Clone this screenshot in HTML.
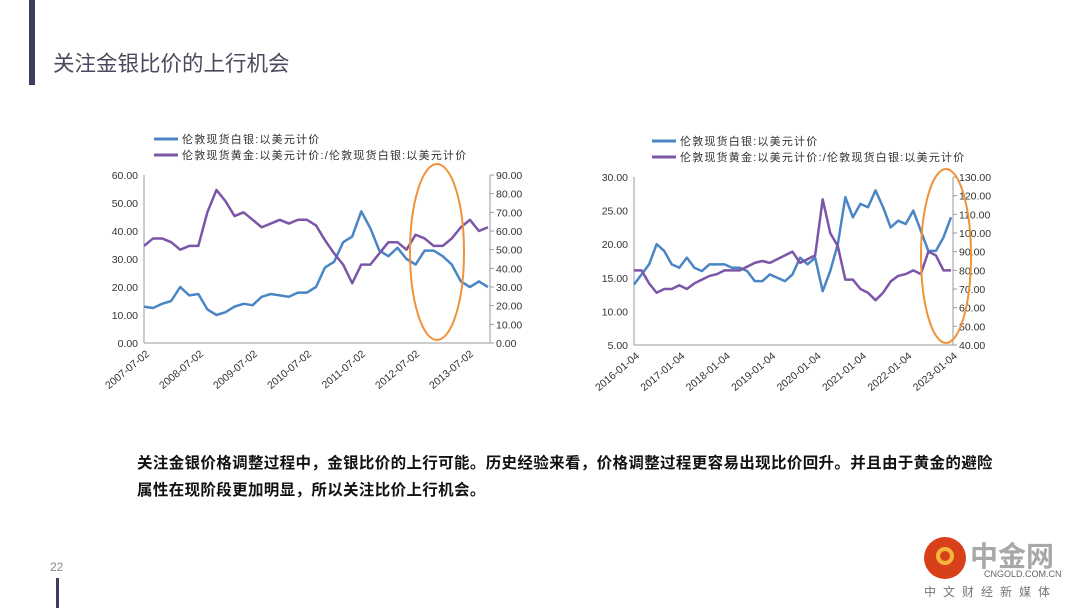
<!DOCTYPE html>
<html><head><meta charset="utf-8">
<style>
html,body{margin:0;padding:0;background:#fff;}
body{width:1080px;height:608px;position:relative;overflow:hidden;font-family:"Liberation Sans","Noto Sans CJK SC",sans-serif;}
.abs{position:absolute;}
svg text{font-family:"Liberation Sans","Noto Sans CJK SC",sans-serif;}
</style></head>
<body>
<div class="abs" style="left:29px;top:0;width:6px;height:85px;background:#3c4060;"></div>
<div class="abs" style="left:53px;top:47px;font-size:21.5px;color:#4a4a5e;">关注金银比价的上行机会</div>
<div class="abs" style="left:137px;top:450px;width:900px;font-size:15.5px;letter-spacing:0.35px;line-height:27px;font-weight:bold;color:#111;">关注金银价格调整过程中，金银比价的上行可能。历史经验来看，价格调整过程更容易出现比价回升。并且由于黄金的避险<br>属性在现阶段更加明显，所以关注比价上行机会。</div>
<div class="abs" style="left:50px;top:560px;font-size:12px;color:#888;">22</div>
<div class="abs" style="left:56px;top:578px;width:3px;height:30px;background:#3c4060;"></div>
<div class="abs" style="left:920px;top:535px;width:160px;height:73px;">
  <div style="position:absolute;left:4px;top:2px;width:42px;height:42px;border-radius:50%;background:#d8401a;"></div>
  <div style="position:absolute;left:16px;top:12px;width:18px;height:18px;border-radius:50%;border:4px solid #f5b53a;box-sizing:border-box;"></div>
  <div style="position:absolute;left:50px;top:0px;font-size:28px;font-weight:bold;color:#a8a8a8;">中金网</div>
  <div style="position:absolute;left:64px;top:34px;font-size:9px;color:#666;">CNGOLD.COM.CN</div>
  <div style="position:absolute;left:4px;top:48px;font-size:12px;letter-spacing:7px;color:#777;">中文财经新媒体</div>
</div>
<svg class="abs" style="left:0;top:0" width="1080" height="608" id="charts"></svg>
<script>
const leftXLabels=["2007-07-02","2008-07-02","2009-07-02","2010-07-02","2011-07-02","2012-07-02","2013-07-02"];
const leftYTicks=["0.00","10.00","20.00","30.00","40.00","50.00","60.00"];
const leftY2Ticks=["0.00","10.00","20.00","30.00","40.00","50.00","60.00","70.00","80.00","90.00"];
const leftSilver=[13,12.5,14,15,20,17,17.5,12,10,11,13,14,13.5,16.5,17.5,17,16.5,18,18,20,27,29,36,38,47,41,33,31,34,30,28,33,33,31,28,22,20,22,20];
const leftRatio=[52,56,56,54,50,52,52,70,82,76,68,70,66,62,64,66,64,66,66,63,55,48,42,32,42,42,48,54,54,50,58,56,52,52,56,62,66,60,62];
const rightXLabels=["2016-01-04","2017-01-04","2018-01-04","2019-01-04","2020-01-04","2021-01-04","2022-01-04","2023-01-04"];
const rightYTicks=["5.00","10.00","15.00","20.00","25.00","30.00"];
const rightY2Ticks=["40.00","50.00","60.00","70.00","80.00","90.00","100.00","110.00","120.00","130.00"];
const rightSilver=[14,15.5,17,20,19,17,16.5,18,16.5,16,17,17,17,16.5,16.5,16,14.5,14.5,15.5,15,14.5,15.5,18,17,18,13,16,20,27,24,26,25.5,28,25.5,22.5,23.5,23,25,22,19,19,21,24];
const rightRatio=[80,80,73,68,70,70,72,70,73,75,77,78,80,80,80,82,84,85,84,86,88,90,84,86,88,118,100,93,75,75,70,68,64,68,74,77,78,80,78,90,88,80,80];

const svg=document.getElementById('charts');
const NS='http://www.w3.org/2000/svg';
function mk(tag,attrs,parent){const e=document.createElementNS(NS,tag);for(const k in attrs)e.setAttribute(k,attrs[k]);(parent||svg).appendChild(e);return e;}

function drawChart(cfg){
  const g=mk('g',{});
  
  
  const {x0,x1,y0,y1}=cfg;
  const ys=v=>y0-(v-cfg.ymin)/(cfg.ymax-cfg.ymin)*(y0-y1);
  const ys2=v=>y0-(v-cfg.y2min)/(cfg.y2max-cfg.y2min)*(y0-y1);
  const n=cfg.silver.length;
  const xs=i=>x0+i/(n-1)*(cfg.xend-x0);
  mk('line',{x1:x0,y1:y1,x2:x0,y2:y0,stroke:'#999'},g);
  mk('line',{x1:x0,y1:y0,x2:x1,y2:y0,stroke:'#999'},g);
  mk('line',{x1:x1,y1:y1,x2:x1,y2:y0,stroke:'#999'},g);
  cfg.yt.forEach((t,i)=>{const y=y0-i/(cfg.yt.length-1)*(y0-y1);
    const tx=mk('text',{x:x0-6,y:y+4,'font-size':10.5,'text-anchor':'end',fill:'#333'},g);tx.textContent=t;
    });
  cfg.y2t.forEach((t,i)=>{const y=y0-i/(cfg.y2t.length-1)*(y0-y1);
    mk('line',{x1:x1,y1:y,x2:x1+4,y2:y,stroke:'#999'},g);
    const tx=mk('text',{x:x1+6,y:y+4,'font-size':10.5,fill:'#333'},g);tx.textContent=t;
    });
  cfg.xl.forEach((t,i)=>{const x=x0+i*cfg.xstep;
    const tx=mk('text',{x:x+6,y:y0+12,'font-size':10.5,'text-anchor':'end',fill:'#333',transform:`rotate(-40 ${x+6} ${y0+12})`},g);tx.textContent=t;
    });
  const p1=mk('polyline',{points:cfg.silver.map((v,i)=>xs(i)+','+ys(v)).join(' '),fill:'none',stroke:'#4a86c5','stroke-width':2.5,'stroke-linejoin':'round'},g);
  
  const p2=mk('polyline',{points:cfg.ratio.map((v,i)=>xs(i)+','+ys2(v)).join(' '),fill:'none',stroke:'#7b55a8','stroke-width':2.5,'stroke-linejoin':'round'},g);
  
  const el=mk('ellipse',{cx:cfg.ex,cy:cfg.ey,rx:cfg.erx,ry:cfg.ery,fill:'none',stroke:'#f0923a','stroke-width':2},g);
  
  const lg=cfg.lg;
  mk('line',{x1:lg[0],y1:lg[1],x2:lg[0]+24,y2:lg[1],stroke:'#4a86c5','stroke-width':3},g);
  let t=mk('text',{x:lg[0]+28,y:lg[1]+4,'font-size':11,'letter-spacing':1.2,fill:'#333'},g);t.textContent='伦敦现货白银:以美元计价';
  
  mk('line',{x1:lg[0],y1:lg[1]+16,x2:lg[0]+24,y2:lg[1]+16,stroke:'#7b55a8','stroke-width':3},g);
  t=mk('text',{x:lg[0]+28,y:lg[1]+20,'font-size':11,'letter-spacing':1.2,fill:'#333'},g);t.textContent='伦敦现货黄金:以美元计价:/伦敦现货白银:以美元计价';
  
}
drawChart({name:'left-chart',x0:144,x1:490,xend:488,y0:343,y1:175,ymin:0,ymax:60,y2min:0,y2max:90,
  yt:leftYTicks,y2t:leftY2Ticks,xl:leftXLabels,xstep:54,silver:leftSilver,ratio:leftRatio,
  ex:437,ey:252,erx:27,ery:88,lg:[154,139]});
drawChart({name:'right-chart',x0:634,x1:953,xend:951,y0:345,y1:177,ymin:5,ymax:30,y2min:40,y2max:130,
  yt:rightYTicks,y2t:rightY2Ticks,xl:rightXLabels,xstep:45.4,silver:rightSilver,ratio:rightRatio,
  ex:946,ey:256,erx:25,ery:87,lg:[652,141]});
</script>
</body></html>
